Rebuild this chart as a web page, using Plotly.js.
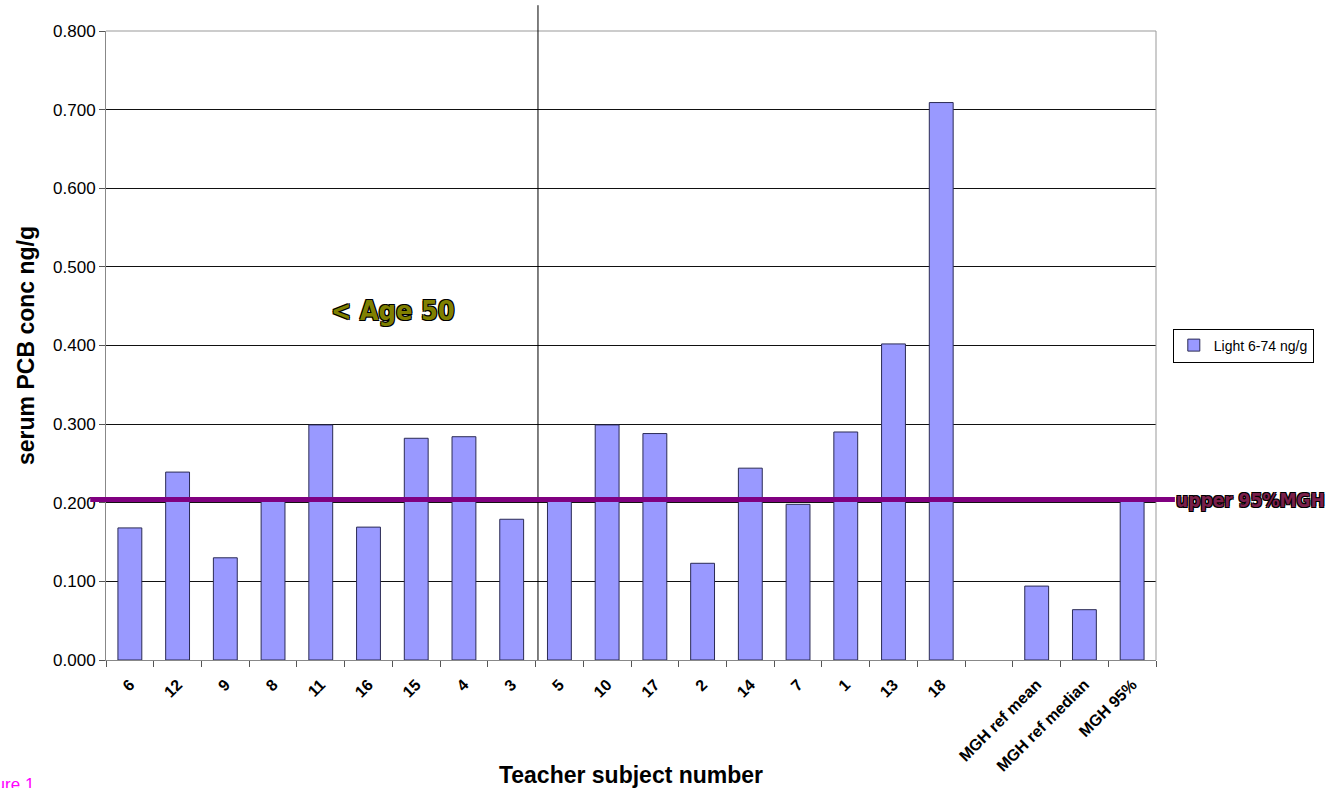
<!DOCTYPE html>
<html><head><meta charset="utf-8">
<script src="https://cdn.plot.ly/plotly-3.0.1.min.js"></script>
<style>html,body{margin:0;padding:0;background:#fff}#chart{width:1330px;height:788px}</style>
</head><body><div id="chart"></div>
<script>
const categories = ["6","12","9","8","11","16","15","4","3","5","10","17","2","14","7","1","13","18"," ","MGH ref mean","MGH ref median","MGH 95%"];
const lightValues = [0.168,0.239,0.130,0.204,0.299,0.169,0.282,0.284,0.179,0.204,0.299,0.288,0.123,0.244,0.198,0.290,0.402,0.709,null,0.094,0.064,0.206];
const seriesName = "Light 6-74 ng/g";
const upper95 = 0.204;
const yTicks = [0,0.1,0.2,0.3,0.4,0.5,0.6,0.7,0.8];
const yTickText = yTicks.map(v => v.toFixed(3));

const outline = "1px 1px 0 #000, -1px -1px 0 #000, 1px -1px 0 #000, -1px 1px 0 #000";
const narrow = "DejaVu Sans Condensed, Liberation Sans Narrow, Arial Narrow, sans-serif";

const trace = {
  type: "bar", x: categories, y: lightValues, name: seriesName,
  marker: {color: "#9999FF", line: {color: "#2b2b55", width: 1}},
  width: 0.5, showlegend: true
};

const layout = {
  width: 1330, height: 788,
  margin: {l: 106, r: 174, t: 31, b: 128},
  paper_bgcolor: "#fff", plot_bgcolor: "#fff",
  font: {family: "Liberation Sans, Arial, sans-serif", color: "#000"},
  showlegend: true,
  legend: {x: 1.016, y: 0.527, xanchor: "left", yanchor: "top",
    bordercolor: "#000", borderwidth: 1, font: {size: 14, color: "#000"},
    itemwidth: 30},
  xaxis: {
    type: "category", categoryorder: "array", categoryarray: categories,
    tickson: "boundaries", ticks: "outside", ticklen: 6, tickcolor: "#555",
    tickangle: -45, tickfont: {size: 16, weight: "bold"}, ticklabelstandoff: 8,
    showline: true, linecolor: "#888", linewidth: 1, showgrid: false,
    mirror: false,
    title: {text: "Teacher subject number", font: {size: 23, weight: "bold"}, standoff: 34}
  },
  yaxis: {
    range: [0, 0.8], tickvals: yTicks, ticktext: yTickText,
    ticks: "outside", ticklen: 6, tickcolor: "#555",
    tickfont: {size: 17},
    showline: true, linecolor: "#888", linewidth: 1,
    showgrid: true, gridcolor: "#111", gridwidth: 1, zeroline: false,
    title: {text: "serum PCB conc ng/g", font: {size: 23, weight: "bold"}, standoff: 12}
  },
  shapes: [
    {type: "line", xref: "paper", yref: "paper", x0: 1, x1: 1, y0: 0, y1: 1, line: {color: "#999", width: 1}},
    {type: "line", xref: "paper", yref: "paper", x0: 0, x1: 1, y0: 1, y1: 1, line: {color: "#999", width: 1}},
    {type: "line", xref: "paper", yref: "paper", x0: 0.4114, x1: 0.4114, y0: 0, y1: 1.041, line: {color: "#000", width: 1}},
    {type: "line", xref: "paper", yref: "y", x0: -0.015, x1: 1.018, y0: upper95, y1: upper95, line: {color: "#800080", width: 5}}
  ],
  annotations: [
    {xref: "paper", yref: "paper", x: 0.273, y: 0.555, xanchor: "center", yanchor: "middle", showarrow: false,
     text: "< Age 50", font: {family: narrow, size: 27, weight: "bold", color: "#808000", shadow: outline}},
    {xref: "paper", yref: "y", x: 1.017, y: upper95, xanchor: "left", yanchor: "middle", showarrow: false,
     text: "upper 95%MGH", font: {family: narrow, size: 19, weight: "bold", color: "#7a1f4a", shadow: outline}},
    {xref: "paper", yref: "paper", x: -0.067, y: -0.198, xanchor: "right", yanchor: "middle", showarrow: false,
     text: "Figure 1", font: {size: 17, color: "#ff00ff"}}
  ]
};

Plotly.newPlot("chart", [trace], layout, {displayModeBar: false, staticPlot: true});
</script></body></html>
